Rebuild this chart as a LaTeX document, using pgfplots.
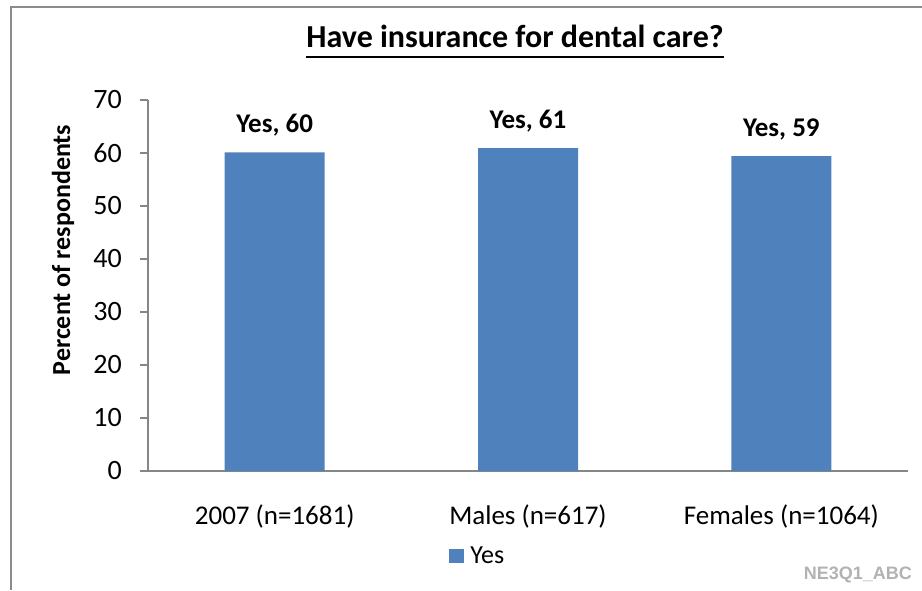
\documentclass[border=0pt]{standalone}
\usepackage{fontspec}
\setmainfont{Carlito}
\newfontfamily\arialfont{Liberation Sans}
\usepackage{pgfplots}
\pgfplotsset{compat=1.18}
\definecolor{barblue}{HTML}{4F81BD}
\definecolor{axgray}{HTML}{868686}
\definecolor{framegray}{HTML}{8C8C8C}
\definecolor{wmgray}{HTML}{B2B2B2}
\begin{document}
\begin{tikzpicture}
\useasboundingbox (0pt,0pt) rectangle (922pt,-590pt);
\draw[framegray, line width=2pt] (11pt,-590pt) -- (11pt,-7pt) -- (922pt,-7pt);
\begin{axis}[
  at={(148pt,-471pt)}, anchor=south west,
  scale only axis, width=760pt, height=371pt,
  xmin=-0.5, xmax=2.5, ymin=0, ymax=70,
  ytick={0,10,...,70},
  xtick={0,1,2},
  xticklabels={2007 (n=1681), Males (n=617), Females (n=1064)},
  axis x line*=bottom, axis y line*=left,
  axis line style={axgray, line width=1.2pt, -},
  xtick style={draw=none},
  ytick style={axgray, line width=1.2pt},
  tick align=outside, major tick length=8pt,
  /pgf/number format/assume math mode=true,
  yticklabel style={font=\fontsize{28}{32}\selectfont, anchor=east, inner sep=0pt, xshift=-18pt},
  xticklabel style={font=\fontsize{27}{32}\selectfont, anchor=base, inner sep=0pt, yshift=-45pt},
  ybar, bar width=100pt,
  nodes near coords={Yes, \pgfmathprintnumber[fixed,precision=0]{\pgfplotspointmeta}},
  every node near coord/.append style={font=\bfseries\fontsize{27}{31}\selectfont, anchor=base, inner sep=0pt, yshift=20pt, black},
  legend style={draw=none, at={(0.434,-0.229)}, anchor=center, font=\fontsize{26}{30}\selectfont, inner sep=0pt, column sep=4pt},
  legend image code/.code={\fill[barblue] (0pt,-7pt) rectangle (15pt,7pt);},
  clip=false,
]
\addplot[fill=barblue, draw=none] coordinates {(0,60.1) (1,60.9) (2,59.4)};
\addlegendentry{Yes}
\end{axis}
\node[inner sep=0pt, anchor=base, font=\bfseries\fontsize{32}{36}\selectfont] (t) at (515pt,-47pt) {Have insurance for dental care?};
\draw[black, line width=2.2pt] ([yshift=-10pt]t.base west) -- ([yshift=-10pt]t.base east);
\node[rotate=90, inner sep=0pt, font=\bfseries\fontsize{26}{30}\selectfont] at (63pt,-250pt) {Percent of respondents};
\node[anchor=base east, inner sep=0pt, text=wmgray, font=\arialfont\bfseries\fontsize{18}{22}\selectfont] at (912pt,-579pt) {NE3Q1\_ABC};
\end{tikzpicture}
\end{document}
